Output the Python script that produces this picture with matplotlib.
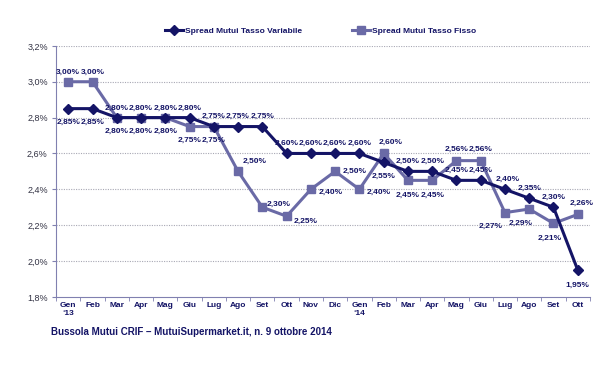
import matplotlib.pyplot as plt
import numpy as np

months = ['Gen\n\u201813', 'Feb', 'Mar', 'Apr', 'Mag', 'Giu', 'Lug', 'Ago', 'Set', 'Ott', 'Nov', 'Dic',
          'Gen\n\u201814', 'Feb', 'Mar', 'Apr', 'Mag', 'Giu', 'Lug', 'Ago', 'Set', 'Ott']
variabile = [2.85, 2.85, 2.80, 2.80, 2.80, 2.80, 2.75, 2.75, 2.75, 2.60, 2.60, 2.60,
             2.60, 2.55, 2.50, 2.50, 2.45, 2.45, 2.40, 2.35, 2.30, 1.95]
fisso = [3.00, 3.00, 2.80, 2.80, 2.80, 2.75, 2.75, 2.50, 2.30, 2.25, 2.40, 2.50,
         2.40, 2.60, 2.45, 2.45, 2.56, 2.56, 2.27, 2.29, 2.21, 2.26]

# label offsets (points) for each point
var_off = [(0, -10)] * 2 + [(0, 7)] * 11 + [(0, -10)] + [(0, 7)] * 4 + [(2, 7), (0, 7), (0, 7), (0, -11)]
fis_off = [(0, 7)] * 2 + [(0, -10)] * 5 + [(12, 7), (12, 2), (14, -4), (14, -2), (14, 0), (14, -2),
                                             (5, 8), (0, -11), (0, -11), (0, 8), (0, 8),
                                             (-10, -10), (-6, -10), (-3, -11), (3, 8)]

dark = '#141466'
light = '#6a6aa6'
plt.rcParams['font.family'] = ['Liberation Sans', 'DejaVu Sans']

fig = plt.figure(figsize=(6.1, 3.67), dpi=100)
ax = fig.add_axes([0.092, 0.191, 0.875, 0.684])

x = np.arange(len(months))
ax.plot(x, fisso, color=light, lw=2.2, marker='s', ms=6, label='Spread Mutui Tasso Fisso', zorder=3)
ax.plot(x, variabile, color=dark, lw=2.2, marker='D', ms=5, label='Spread Mutui Tasso Variabile', zorder=4)

def fmt(v):
    return ('%.2f%%' % v).replace('.', ',')

for i in range(len(x)):
    ax.annotate(fmt(variabile[i]), (x[i], variabile[i]), xytext=var_off[i], textcoords='offset points',
                ha='center', va='center', fontsize=6, fontweight='bold', color=dark)
    ax.annotate(fmt(fisso[i]), (x[i], fisso[i]), xytext=fis_off[i], textcoords='offset points',
                ha='center', va='center', fontsize=6, fontweight='bold', color=dark)

ax.set_xlim(-0.5, len(x) - 0.5)
ax.set_ylim(1.8, 3.2)
yt = np.arange(1.8, 3.21, 0.2)
ax.set_yticks(yt)
ax.set_yticklabels([('%.1f%%' % v).replace('.', ',') for v in yt], fontsize=6.5, color='#333344')
ax.set_xticks(x)
ax.set_xticklabels(months, fontsize=6, fontweight='bold', color=dark, va='top')
ax.tick_params(axis='x', length=0, pad=4)
ax.set_xticks(np.arange(-0.5, len(x)), minor=True)
ax.tick_params(axis='x', which='minor', length=3, color='#8080b0', direction='out')
ax.tick_params(axis='y', length=3, color='#8080b0', direction='out', pad=3)

for v in yt[1:]:
    ax.axhline(v, color='#a8a8b4', lw=0.8, ls=(0, (1, 1.2)), zorder=1)
for s in ['top', 'right']:
    ax.spines[s].set_visible(False)
ax.spines['left'].set_color('#8080b0')
ax.spines['bottom'].set_color('#8080b0')

h, l = ax.get_legend_handles_labels()
fig.legend(h[::-1], l[::-1], loc='center', bbox_to_anchor=(0.525, 0.915), ncol=2, frameon=False,
           prop={'size': 6, 'weight': 'bold'}, labelcolor=dark, handlelength=2.2, columnspacing=6,
           handletextpad=0.2)

fig.text(0.083, 0.095, 'Bussola Mutui CRIF \u2013 MutuiSupermarket.it, n. 9 ottobre 2014',
         fontsize=7, fontweight='bold', color=dark, ha='left', va='center')

fig.savefig('out.png', dpi=100)
